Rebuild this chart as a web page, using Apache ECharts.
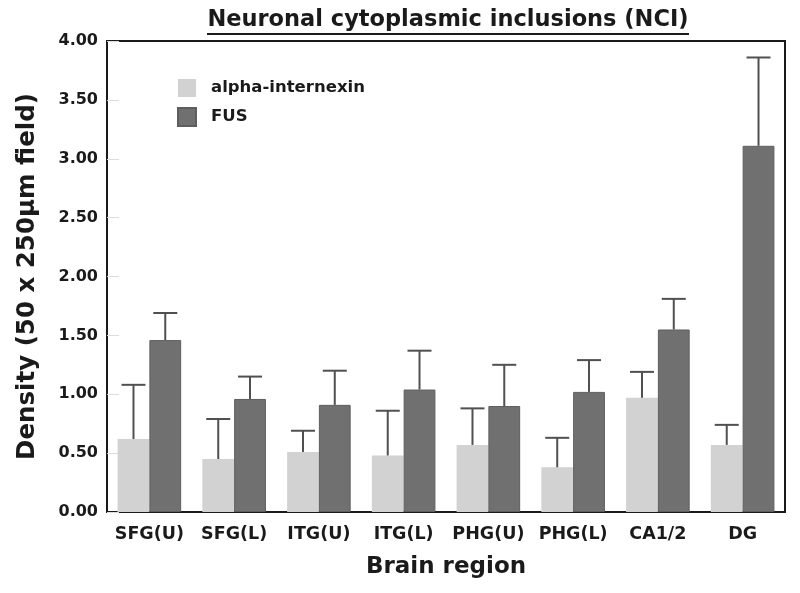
<!DOCTYPE html>
<html>
<head>
<meta charset="utf-8">
<script src="https://cdn.jsdelivr.net/npm/echarts@6/dist/echarts.min.js"></script>
<style>html,body{margin:0;padding:0;background:#fff}#c{width:800px;height:593px}</style>
</head>
<body>
<div id="c"></div>
<script>
const categories = ['SFG(U)', 'SFG(L)', 'ITG(U)', 'ITG(L)', 'PHG(U)', 'PHG(L)', 'CA1/2', 'DG'];
const alphaValues = [0.62, 0.45, 0.51, 0.48, 0.57, 0.38, 0.97, 0.57];
const alphaUpper  = [1.08, 0.79, 0.69, 0.86, 0.88, 0.63, 1.19, 0.74];
const fusValues   = [1.46, 0.96, 0.91, 1.04, 0.90, 1.02, 1.55, 3.11];
const fusUpper    = [1.69, 1.15, 1.20, 1.37, 1.25, 1.29, 1.81, 3.86];
const yTicks = [0, 0.5, 1, 1.5, 2, 2.5, 3, 3.5, 4];

const FONT = 'DejaVu Sans';
const BAR_CAT_GAP = 0.25;

function errorSeries(name, values, upper, side) {
  return {
    type: 'custom',
    name: name + ' err',
    z: 5,
    silent: true,
    data: values.map((v, i) => [i, v, upper[i]]),
    renderItem: function (params, api) {
      const idx = api.value(0);
      const base = api.coord([idx, api.value(1)]);
      const top = api.coord([idx, api.value(2)]);
      const band = api.size([1, 0])[0];
      const barW = band * (1 - BAR_CAT_GAP) / 2;
      const x = base[0] + side * barW / 2;
      const capHalf = 12;
      const style = { stroke: '#505050', lineWidth: 2 };
      return {
        type: 'group',
        children: [
          { type: 'line', shape: { x1: x, y1: base[1], x2: x, y2: top[1] }, style: style },
          { type: 'line', shape: { x1: x - capHalf, y1: top[1], x2: x + capHalf, y2: top[1] }, style: style }
        ]
      };
    }
  };
}

const chart = echarts.init(document.getElementById('c'), null, { renderer: 'canvas' });
chart.setOption({
  animation: false,
  backgroundColor: '#fff',
  title: {
    text: 'Neuronal cytoplasmic inclusions (NCI)',
    left: 448, top: 9, textAlign: 'center', padding: 0,
    textStyle: { fontFamily: FONT, fontWeight: 'bold', fontSize: 22.5, color: '#1a1a1a' }
  },
  graphic: [
    { type: 'rect', shape: { x: 207, y: 33, width: 482, height: 2 }, style: { fill: '#1a1a1a' } }
  ],
  legend: {
    orient: 'vertical', left: 177, top: 79, padding: 0,
    itemWidth: 18, itemHeight: 18, itemGap: 10,
    icon: 'rect',
    data: ['alpha-internexin', 'FUS'],
    textStyle: { fontFamily: FONT, fontWeight: 'bold', fontSize: 16.5, color: '#1a1a1a', padding: [0, 0, 0, 10] }
  },
  grid: {
    left: 107, right: 15, top: 41, bottom: 81,
    show: true, borderColor: '#1a1a1a', borderWidth: 2, backgroundColor: 'transparent'
  },
  xAxis: {
    type: 'category',
    data: categories,
    name: 'Brain region',
    nameLocation: 'middle', nameGap: 44,
    nameTextStyle: { fontFamily: FONT, fontWeight: 'bold', fontSize: 23, color: '#1a1a1a' },
    axisLine: { lineStyle: { color: '#1a1a1a', width: 2 } },
    axisTick: { show: false },
    axisLabel: { interval: 0, margin: 13, fontFamily: FONT, fontWeight: 'bold', fontSize: 17.5, color: '#1a1a1a' }
  },
  yAxis: {
    type: 'value', min: 0, max: 4, interval: 0.5,
    name: 'Density (50 x 250\u03bcm field)',
    nameLocation: 'middle', nameGap: 67,
    nameTextStyle: { fontFamily: FONT, fontWeight: 'bold', fontSize: 24.5, color: '#1a1a1a' },
    axisLine: { show: true, lineStyle: { color: '#1a1a1a', width: 2 } },
    axisTick: { show: true, inside: true, length: 12, lineStyle: { color: '#dddddd', width: 1 } },
    splitLine: { show: false },
    axisLabel: { margin: 9, fontFamily: FONT, fontWeight: 'bold', fontSize: 16, color: '#1a1a1a',
      formatter: v => v.toFixed(2) }
  },
  series: [
    { type: 'bar', name: 'alpha-internexin', data: alphaValues, barGap: '0%', barCategoryGap: '25%',
      itemStyle: { color: '#d2d2d2' } },
    { type: 'bar', name: 'FUS', data: fusValues, barGap: '0%', barCategoryGap: '25%',
      itemStyle: { color: '#707070', borderColor: '#5e5e5e', borderWidth: 1 } },
    errorSeries('alpha-internexin', alphaValues, alphaUpper, -1),
    errorSeries('FUS', fusValues, fusUpper, 1)
  ]
});
</script>
</body>
</html>
